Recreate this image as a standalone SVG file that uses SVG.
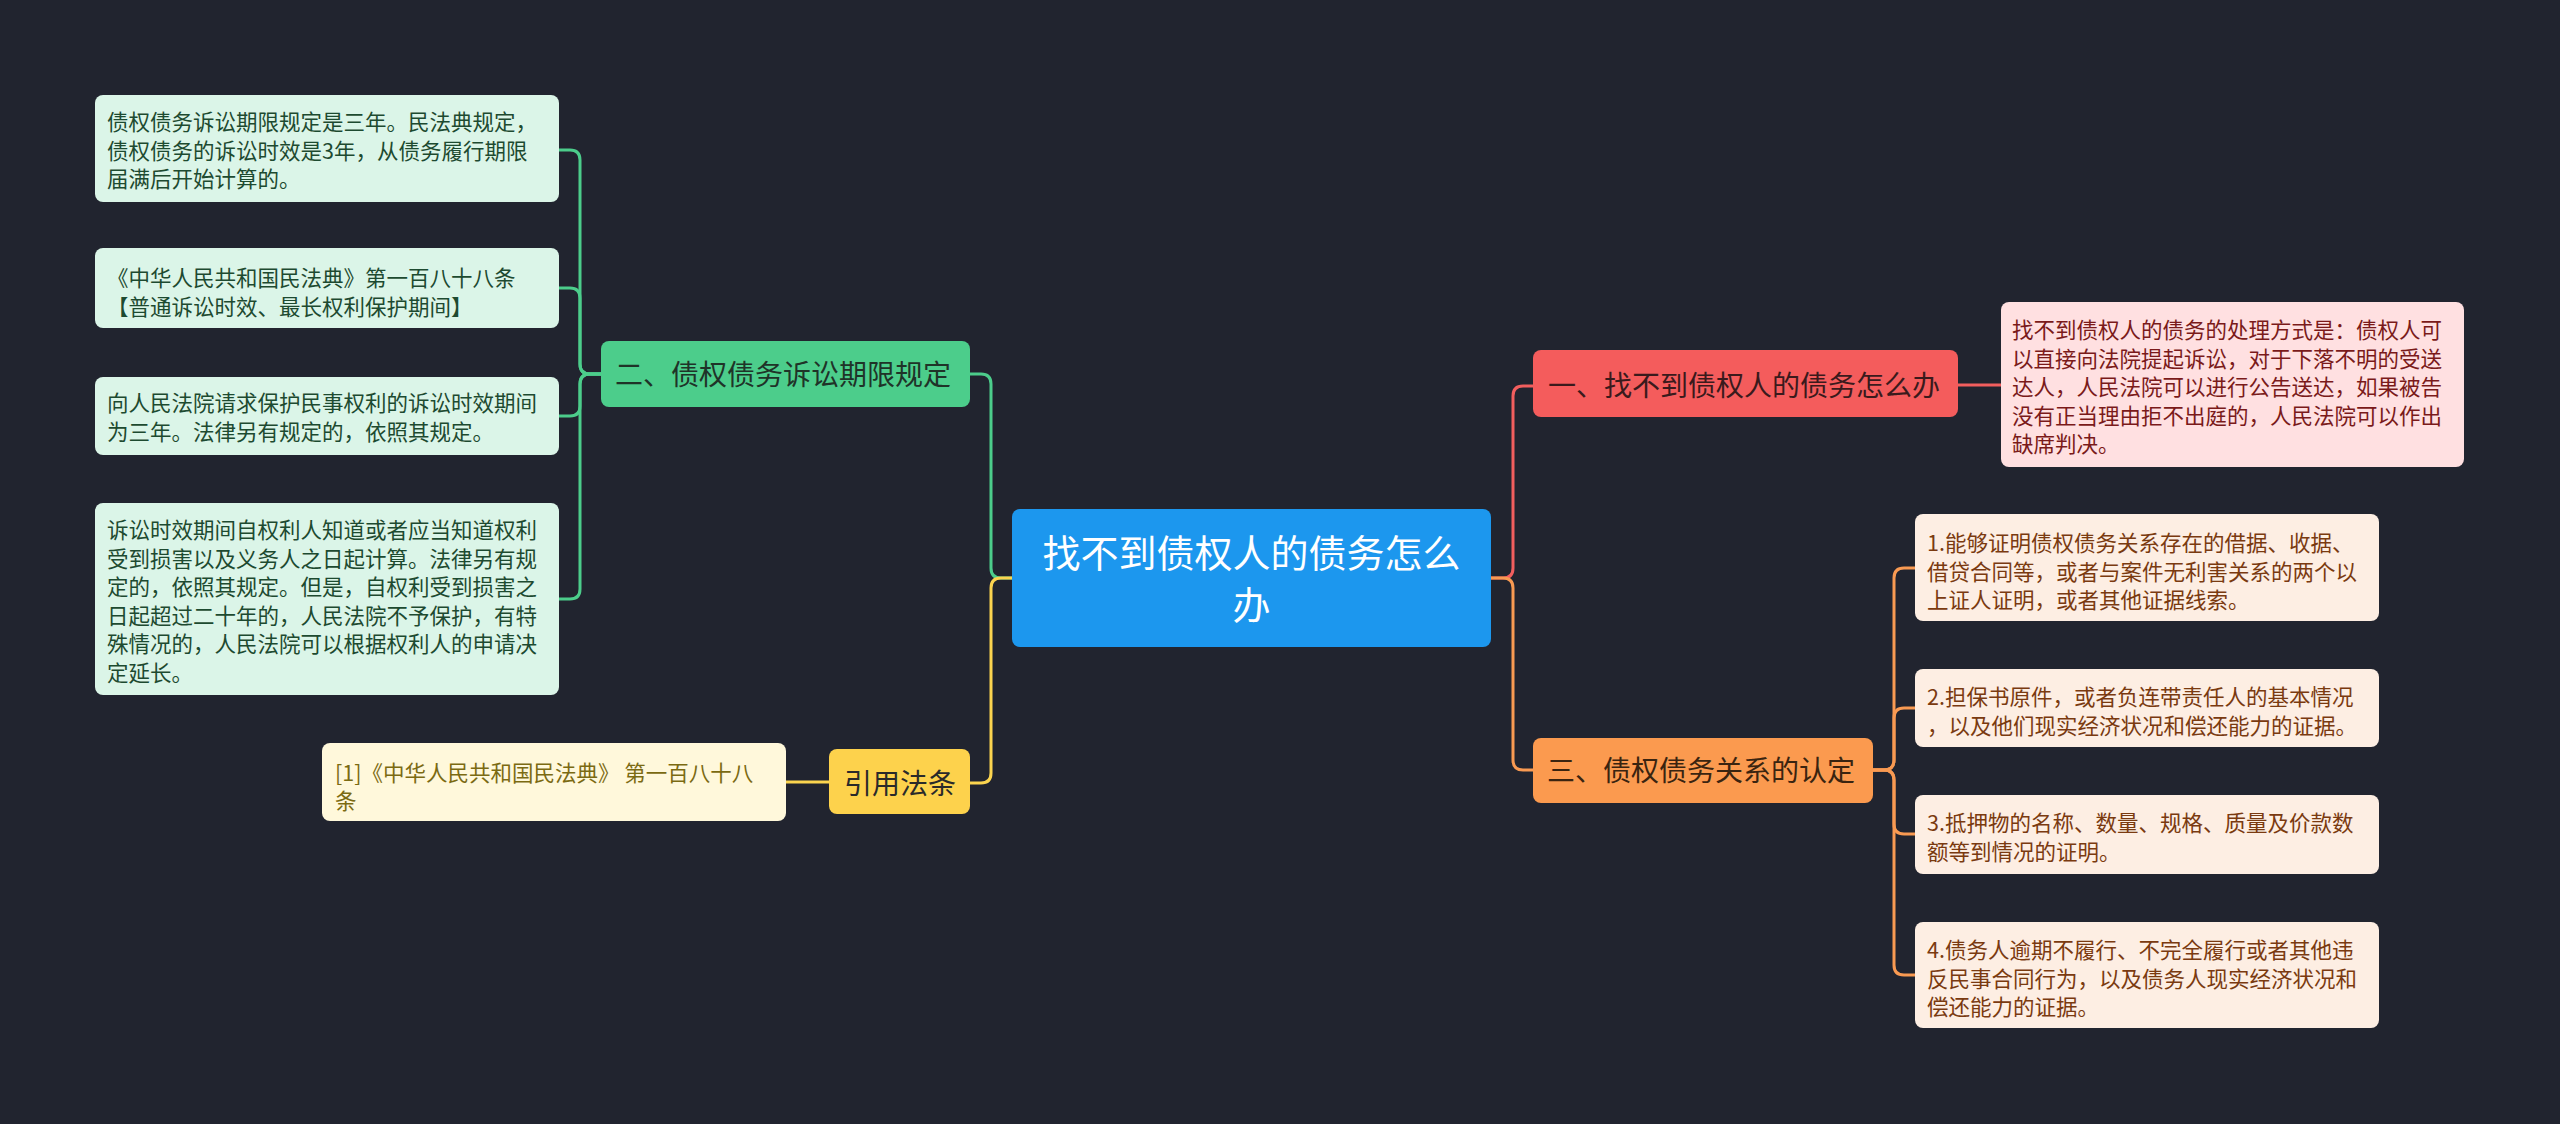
<svg xmlns="http://www.w3.org/2000/svg" width="2560" height="1124" viewBox="0 0 2560 1124">
<style>
text{font-family:"Noto Sans CJK SC","Noto Sans",sans-serif;}
.leaf{font-size:21.5px;}
.main{font-size:28px;}
.c{fill:none;stroke-width:3;}
.g{stroke:#4ccd8b;}
.y{stroke:#fbd44f;}
.r{stroke:#f25e5e;}
.o{stroke:#f99a52;}
</style>
<rect x="0" y="0" width="2560" height="1124" fill="#21242f"/>
<g id="connectors">
<path class="c g" d="M1012,578 H1001 Q991,578 991,568 V384 Q991,374 981,374 H970"/>
<path class="c y" d="M1012,578 H1001 Q991,578 991,588 V773 Q991,783 981,783 H970"/>
<path class="c r" d="M1491,578 H1503 Q1513,578 1513,568 V396 Q1513,386 1523,386 H1533"/>
<path class="c o" d="M1491,578 H1503 Q1513,578 1513,588 V760 Q1513,770 1523,770 H1533"/>
<path class="c g" d="M601,374 H590 Q580,374 580,364 V160 Q580,150 570,150 H559"/>
<path class="c g" d="M601,374 H590 Q580,374 580,364 V298 Q580,288 570,288 H559"/>
<path class="c g" d="M601,374 H590 Q580,374 580,384 V406 Q580,416 570,416 H559"/>
<path class="c g" d="M601,374 H590 Q580,374 580,384 V589 Q580,599 570,599 H559"/>
<path class="c y" d="M829,782 H786"/>
<path class="c r" d="M1958,385 H2001"/>
<path class="c o" d="M1873,770 H1884 Q1894,770 1894,760 V578 Q1894,568 1904,568 H1915"/>
<path class="c o" d="M1873,770 H1884 Q1894,770 1894,760 V718 Q1894,708 1904,708 H1915"/>
<path class="c o" d="M1873,770 H1884 Q1894,770 1894,780 V824 Q1894,834 1904,834 H1915"/>
<path class="c o" d="M1873,770 H1884 Q1894,770 1894,780 V965 Q1894,975 1904,975 H1915"/>
</g>
<g id="root">
<rect x="1012" y="509" width="479" height="138" rx="8" fill="#1c97ee"/>
<text x="1251.5" y="567" font-size="38" fill="#ffffff" text-anchor="middle">找不到债权人的债务怎么</text>
<text x="1251.5" y="619" font-size="38" fill="#ffffff" text-anchor="middle">办</text>
</g>
<g id="n-green">
<rect x="601" y="341" width="369" height="66" rx="8" fill="#4ccd8b"/>
<text class="main" x="615" y="384.5" fill="#1f3328">二、债权债务诉讼期限规定</text>
</g>
<g id="g-leaf1">
<rect x="95" y="95" width="464" height="107" rx="8" fill="#dbf5e8"/>
<text class="leaf" fill="#1d4a30"><tspan x="107" y="130">债权债务诉讼期限规定是三年。民法典规定，</tspan><tspan x="107" y="158.5">债权债务的诉讼时效是3年，从债务履行期限</tspan><tspan x="107" y="187">届满后开始计算的。</tspan></text>
</g>
<g id="g-leaf2">
<rect x="95" y="248" width="464" height="80" rx="8" fill="#dbf5e8"/>
<text class="leaf" fill="#1d4a30"><tspan x="107" y="286">《中华人民共和国民法典》第一百八十八条</tspan><tspan x="107" y="314.5">【普通诉讼时效、最长权利保护期间】</tspan></text>
</g>
<g id="g-leaf3">
<rect x="95" y="377" width="464" height="78" rx="8" fill="#dbf5e8"/>
<text class="leaf" fill="#1d4a30"><tspan x="107" y="411">向人民法院请求保护民事权利的诉讼时效期间</tspan><tspan x="107" y="439.5">为三年。法律另有规定的，依照其规定。</tspan></text>
</g>
<g id="g-leaf4">
<rect x="95" y="503" width="464" height="192" rx="8" fill="#dbf5e8"/>
<text class="leaf" fill="#1d4a30"><tspan x="107" y="538">诉讼时效期间自权利人知道或者应当知道权利</tspan><tspan x="107" y="566.5">受到损害以及义务人之日起计算。法律另有规</tspan><tspan x="107" y="595">定的，依照其规定。但是，自权利受到损害之</tspan><tspan x="107" y="623.5">日起超过二十年的，人民法院不予保护，有特</tspan><tspan x="107" y="652">殊情况的，人民法院可以根据权利人的申请决</tspan><tspan x="107" y="680.5">定延长。</tspan></text>
</g>
<g id="n-yellow">
<rect x="829" y="749" width="141" height="65" rx="8" fill="#fdd24c"/>
<text class="main" x="844" y="793.5" fill="#2a2a2a">引用法条</text>
</g>
<g id="y-leaf">
<rect x="322" y="743" width="464" height="78" rx="8" fill="#fff8db"/>
<text class="leaf" fill="#7b6a12"><tspan x="335" y="780.5">[1]《中华人民共和国民法典》 第一百八十八</tspan><tspan x="335" y="808.5">条</tspan></text>
</g>
<g id="n-red">
<rect x="1533" y="350" width="425" height="67" rx="8" fill="#f45c5c"/>
<text class="main" x="1548" y="396" fill="#3a1a1c">一、找不到债权人的债务怎么办</text>
</g>
<g id="r-leaf">
<rect x="2001" y="302" width="463" height="165" rx="8" fill="#ffe0e1"/>
<text class="leaf" fill="#7a1a1a"><tspan x="2012" y="338">找不到债权人的债务的处理方式是：债权人可</tspan><tspan x="2012" y="366.5">以直接向法院提起诉讼，对于下落不明的受送</tspan><tspan x="2012" y="395">达人，人民法院可以进行公告送达，如果被告</tspan><tspan x="2012" y="423.5">没有正当理由拒不出庭的，人民法院可以作出</tspan><tspan x="2012" y="452">缺席判决。</tspan></text>
</g>
<g id="n-orange">
<rect x="1533" y="738" width="340" height="65" rx="8" fill="#fb9a4f"/>
<text class="main" x="1547" y="780.5" fill="#3a2410">三、债权债务关系的认定</text>
</g>
<g id="o-leaf1">
<rect x="1915" y="514" width="464" height="107" rx="8" fill="#fdeee3"/>
<text class="leaf" fill="#7a3a10"><tspan x="1927" y="551">1.能够证明债权债务关系存在的借据、收据、</tspan><tspan x="1927" y="579.5">借贷合同等，或者与案件无利害关系的两个以</tspan><tspan x="1927" y="608">上证人证明，或者其他证据线索。</tspan></text>
</g>
<g id="o-leaf2">
<rect x="1915" y="669" width="464" height="78" rx="8" fill="#fdeee3"/>
<text class="leaf" fill="#7a3a10"><tspan x="1927" y="705">2.担保书原件，或者负连带责任人的基本情况</tspan><tspan x="1927" y="733.5">，以及他们现实经济状况和偿还能力的证据。</tspan></text>
</g>
<g id="o-leaf3">
<rect x="1915" y="795" width="464" height="79" rx="8" fill="#fdeee3"/>
<text class="leaf" fill="#7a3a10"><tspan x="1927" y="831">3.抵押物的名称、数量、规格、质量及价款数</tspan><tspan x="1927" y="859.5">额等到情况的证明。</tspan></text>
</g>
<g id="o-leaf4">
<rect x="1915" y="922" width="464" height="106" rx="8" fill="#fdeee3"/>
<text class="leaf" fill="#7a3a10"><tspan x="1927" y="958">4.债务人逾期不履行、不完全履行或者其他违</tspan><tspan x="1927" y="986.5">反民事合同行为，以及债务人现实经济状况和</tspan><tspan x="1927" y="1015">偿还能力的证据。</tspan></text>
</g>
</svg>
